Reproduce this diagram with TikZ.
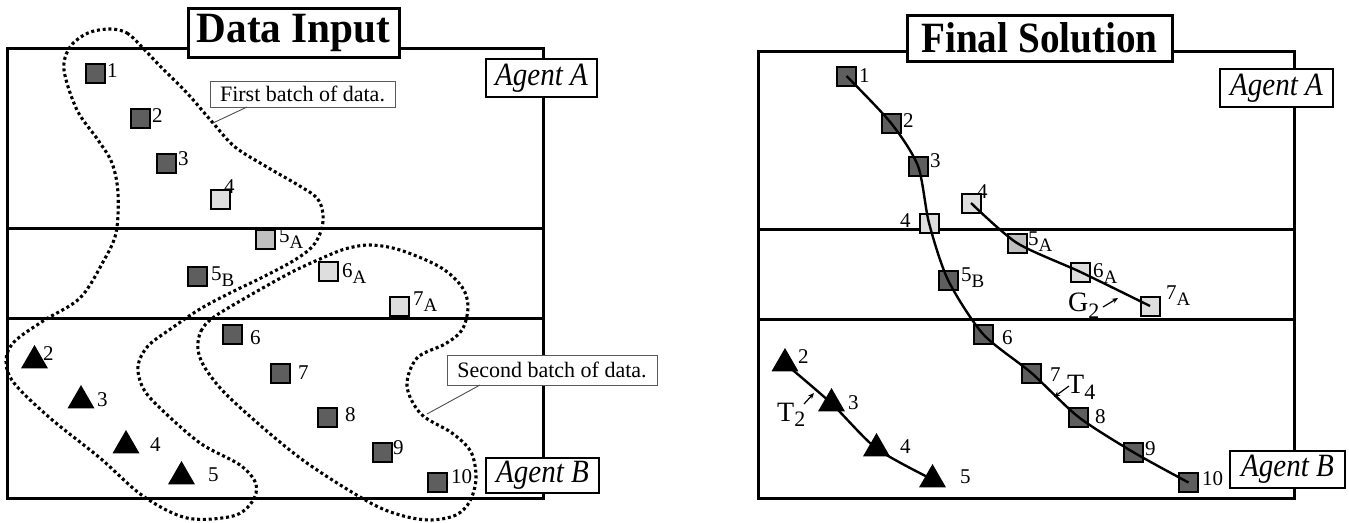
\documentclass[tikz,border=0pt]{standalone}
\usepackage{fontspec}
\usepackage{graphicx}
\setmainfont{Liberation Serif}
\usetikzlibrary{shapes.geometric,arrows.meta}
\definecolor{sqdark}{HTML}{5E5E5E}
\definecolor{sqlight}{HTML}{DEDEDE}
\definecolor{sqmid}{HTML}{C0C0C0}
\newcommand\sbl[2]{#1\raisebox{-6.5pt}{\fontsize{19}{19}\selectfont #2}}
\begin{document}
\begin{tikzpicture}[x=1pt,y=-1pt,
  panel/.style={line width=3pt},
  sqbase/.style={rectangle, draw=black, line width=2pt, minimum size=19pt, inner sep=0pt},
  dsq/.style={sqbase, fill=sqdark},
  lsq/.style={sqbase, fill=sqlight},
  msq/.style={sqbase, fill=sqmid},
  tri/.style={regular polygon, regular polygon sides=3, fill=black, minimum size=31pt, inner sep=0pt},
  num/.style={font=\fontsize{21}{21}\selectfont, inner sep=0pt, anchor=base west},
  batch/.style={line width=3.1pt, dash pattern=on 3pt off 2.8pt},
  note/.style={draw=black!65, line width=0.9pt, fill=white, inner sep=0pt, font=\fontsize{22}{22}\selectfont},
  pointer/.style={draw=black!70, line width=0.9pt},
  agent/.style={draw, line width=1.3pt, fill=white, inner sep=0pt, font=\fontsize{29}{29}\selectfont\itshape},
  titlebox/.style={draw, line width=3pt, fill=white, inner sep=0pt, font=\fontsize{40}{40}\selectfont\bfseries},
  chain/.style={line width=2.4pt},
  arr/.style={line width=1.2pt, -{Stealth[length=6pt,width=5pt]}},
  big/.style={inner sep=0pt, anchor=base west, font=\fontsize{28}{28}\selectfont}
]
\useasboundingbox (0,0) rectangle (1349,522);

% ---------- panels ----------
\draw[panel] (7,48) rectangle (543,498);
\draw[panel] (7,228) -- (543,228);
\draw[panel] (7,318) -- (543,318);
\draw[panel] (758,51) rectangle (1294,498);
\draw[panel] (758,229) -- (1294,229);
\draw[panel] (758,319) -- (1294,319);

% ---------- dotted batches ----------
\draw[batch] plot[smooth cycle, tension=0.55] coordinates {
 (110,29) (127,33) (142,47) (160,66) (187,93) (213,123) (235,147) (267,167)
 (298,185) (317,198) (323,214) (321,231) (312,247) (293,261) (263,277)
 (230,293) (200,309) (172,328) (148,346) (138,366) (143,388) (160,408)
 (200,443) (240,465) (256,484) (252,502) (233,516) (187,518) (143,496)
 (100,458) (50,418) (14,383) (6,361) (14,342) (43,321) (80,298) (103,262)
 (116,233) (118,193) (112,163) (98,140) (77,110) (64,70) (70,47) (88,33)};
\draw[batch] plot[smooth cycle, tension=0.55] coordinates {
 (198,350) (201,331) (214,317) (247,297) (290,273) (320,259) (345,249)
 (370,245) (400,250) (440,267) (462,287) (468,307) (462,330) (445,344)
 (417,358) (407,386) (421,414) (452,433) (471,452) (476,478) (470,501)
 (456,515) (430,520) (400,515) (367,501) (300,458) (233,401) (207,371)};

% ---------- batch notes ----------
\node[note, minimum width=185pt, minimum height=26pt] (first) at (302.5,94) {First batch of data.};
\coordinate (firstend) at (213,123);
\draw[pointer] (247,107) -- (firstend);
\node[note, minimum width=210pt, minimum height=30pt] (second) at (552,370) {Second batch of data.};
\coordinate (secondend) at (427,414);
\draw[pointer] (480,385) -- (secondend);

% ---------- left panel items ----------
\node[dsq] (l1) at (95,73) {};
\node[dsq] (l2) at (140,118) {};
\node[dsq] (l3) at (166,163) {};
\node[lsq] (l4) at (220,199.5) {};
\node[msq] (l5A) at (265,239) {};
\node[dsq] (l5B) at (197,276.5) {};
\node[lsq] (l6A) at (328.5,271.5) {};
\node[lsq] (l7A) at (399,306) {};
\node[dsq] (l6) at (232,334) {};
\node[dsq] (l7) at (280.5,373) {};
\node[dsq] (l8) at (327,417) {};
\node[dsq] (l9) at (382,452) {};
\node[dsq] (l10) at (437,482.5) {};
\node[tri] (lt2) at (34.5,360.5) {};
\node[tri] (lt3) at (81,400.5) {};
\node[tri] (lt4) at (126,445.5) {};
\node[tri] (lt5) at (181.5,476.5) {};

\node[num] at (107,77) {1};
\node[num] at (152,122) {2};
\node[num] at (178,165) {3};
\node[num] at (224,193) {4};
\node[num] at (279,242) {\sbl{5}{A}};
\node[num] at (211,280) {\sbl{5}{B}};
\node[num] at (342,277) {\sbl{6}{A}};
\node[num] at (413,305) {\sbl{7}{A}};
\node[num] at (250,344) {6};
\node[num] at (298,379) {7};
\node[num] at (345,421) {8};
\node[num] at (393,454) {9};
\node[num] at (451,483) {10};
\node[num] at (43,360) {2};
\node[num] at (97,406) {3};
\node[num] at (150,451) {4};
\node[num] at (208,481) {5};

% ---------- right panel items ----------
\node[dsq] (r1) at (846.5,76) {};
\node[dsq] (r2) at (891,123) {};
\node[dsq] (r3) at (918,166) {};
\node[lsq] (r4) at (929,223) {};
\node[lsq] (r4b) at (971,203) {};
\node[msq] (r5A) at (1017,243) {};
\node[dsq] (r5B) at (948,280) {};
\node[lsq] (r6A) at (1080.5,272) {};
\node[lsq] (r7A) at (1150,306) {};
\node[dsq] (r6) at (983,334) {};
\node[dsq] (r7) at (1031.5,373) {};
\node[dsq] (r8) at (1078.5,417) {};
\node[dsq] (r9) at (1133,452) {};
\node[dsq] (r10) at (1188.5,482.5) {};
\node[tri] (rt2) at (785,363.5) {};
\node[tri] (rt3) at (831.5,403.5) {};
\node[tri] (rt4) at (876.5,448.5) {};
\node[tri] (rt5) at (932.5,479.5) {};

\draw[chain] plot[smooth, tension=0.45] coordinates {(r1.center) (r2.center) (r3.center) (r4.center) (r5B.center) (r6.center) (r7.center) (r8.center) (r9.center) (r10.center)};
\draw[chain] plot[smooth, tension=0.45] coordinates {(r4b.center) (r5A.center) (r6A.center) (r7A.center)};
\draw[chain] plot[smooth, tension=0.45] coordinates {(rt2.center) (rt3.center) (rt4.center) (rt5.center)};

\node[num] at (859,82) {1};
\node[num] at (903,127) {2};
\node[num] at (930,167) {3};
\node[num] at (900,227) {4};
\node[num] at (977,198) {4};
\node[num] at (1028,245) {\sbl{5}{A}};
\node[num] at (961,281) {\sbl{5}{B}};
\node[num] at (1093,277) {\sbl{6}{A}};
\node[num] at (1166,299) {\sbl{7}{A}};
\node[num] at (1002,344) {6};
\node[num] at (1050,381) {7};
\node[num] at (1095,423) {8};
\node[num] at (1145,455) {9};
\node[num] at (1202,485) {10};
\node[num] at (798,363) {2};
\node[num] at (848,409) {3};
\node[num] at (900,453) {4};
\node[num] at (960,483) {5};

% ---------- G2, T2, T4 ----------
\node[big] (g2) at (1068,311) {G\raisebox{-7pt}{\fontsize{22}{22}\selectfont 2}};
\coordinate (g2tail) at (1103,307);
\coordinate (g2tip) at (1118,298);
\draw[arr] (g2tail) -- (g2tip);
\node[big] (t4) at (1067,393) {T\raisebox{-6pt}{\fontsize{22}{22}\selectfont 4}};
\coordinate (t4tail) at (1069,386);
\coordinate (t4tip) at (1054,397);
\draw[arr] (t4tail) -- (t4tip);
\node[big] (t2) at (777,421) {T\raisebox{-5pt}{\fontsize{22}{22}\selectfont 2}};
\coordinate (t2tail) at (804,404);
\coordinate (t2tip) at (814,393);
\draw[arr] (t2tail) -- (t2tip);

% ---------- agent labels ----------
\node[agent, minimum width=111pt, minimum height=38pt] (la) at (541.5,78) {\scalebox{1}[1.12]{Agent A}};
\node[agent, minimum width=113pt, minimum height=35pt] (lb) at (542.5,475.5) {\scalebox{1}[1.12]{Agent B}};
\node[agent, minimum width=113pt, minimum height=38pt] (ra) at (1276.5,88) {\scalebox{1}[1.12]{Agent A}};
\node[agent, minimum width=115pt, minimum height=37pt] (rb) at (1287.5,469.5) {\scalebox{1}[1.12]{Agent B}};

% ---------- titles ----------
\node[titlebox, minimum width=211pt, minimum height=49pt] (t1) at (293.5,32.5) {\scalebox{1.03}[1.08]{Data Input}};
\node[titlebox, minimum width=265pt, minimum height=46pt] (t2box) at (1039.5,38) {\scalebox{0.98}[1.08]{Final Solution}};
\end{tikzpicture}
\end{document}
